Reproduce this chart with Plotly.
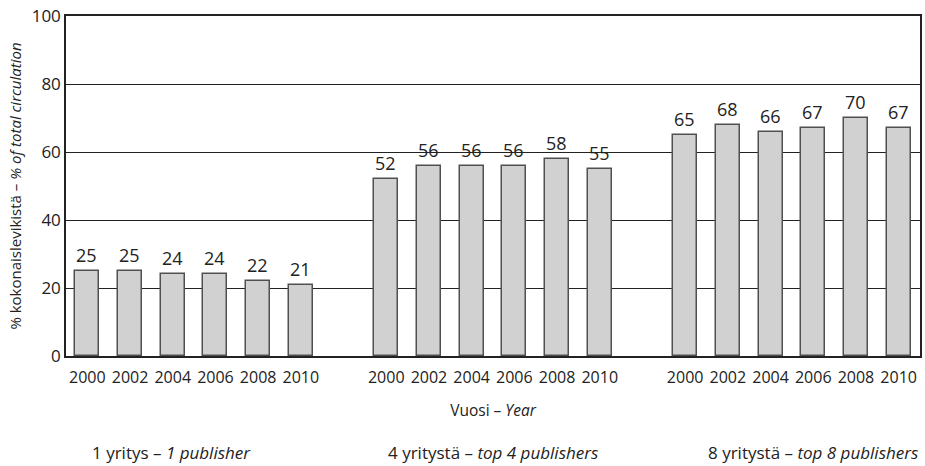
import plotly.graph_objects as go

# Data
years = ["2000", "2002", "2004", "2006", "2008", "2010"]
group_labels_fi = ["1 yritys", "4 yritystä", "8 yritystä"]
group_labels_en = ["1 publisher", "top 4 publishers", "top 8 publishers"]
share_top1 = [25, 25, 24, 24, 22, 21]
share_top4 = [52, 56, 56, 56, 58, 55]
share_top8 = [65, 68, 66, 67, 70, 67]

series = [share_top1, share_top4, share_top8]
slots_per_group = len(years) + 1  # one empty slot between groups

xs, ys, tick_vals, tick_text = [], [], [], []
for g, values in enumerate(series):
    for i, v in enumerate(values):
        pos = g * slots_per_group + i
        xs.append(pos)
        ys.append(v)
        tick_vals.append(pos)
        tick_text.append(years[i])

FONT = "Open Sans"
INK = "#222222"

fig = go.Figure()
fig.add_trace(go.Bar(
    x=xs,
    y=ys,
    width=0.56,
    marker=dict(color="#d1d1d1", line=dict(color="#505050", width=1.5)),
    text=[str(v) for v in ys],
    textposition="outside",
    textfont=dict(family=FONT, size=18, color=INK),
    cliponaxis=False,
    showlegend=False,
))

fig.update_layout(
    width=925,
    height=466,
    margin=dict(l=66, r=3, t=16, b=110),
    plot_bgcolor="white",
    paper_bgcolor="white",
    font=dict(family=FONT, color=INK),
    bargap=0,
    xaxis=dict(
        range=[-0.5, 3 * slots_per_group - 1.5],
        tickvals=tick_vals,
        ticktext=tick_text,
        tickfont=dict(size=16, color=INK),
        ticklabelstandoff=6,
        showgrid=False,
        zeroline=False,
        showline=True,
        linecolor=INK,
        linewidth=1.5,
        mirror=True,
        ticks="",
        title=dict(text="Vuosi – <i>Year</i>", font=dict(size=15.5), standoff=18),
    ),
    yaxis=dict(
        range=[0, 100],
        tickvals=[0, 20, 40, 60, 80, 100],
        tickfont=dict(size=17, color=INK),
        showgrid=True,
        gridcolor=INK,
        gridwidth=1,
        zeroline=False,
        showline=True,
        linecolor=INK,
        linewidth=1.5,
        mirror=True,
        ticks="",
        title=dict(
            text="% kokonaislevikistä – <i>% of total circulation</i>",
            font=dict(size=15),
            standoff=6,
        ),
    ),
)

# group captions under the axis
anchors = [(0.028, "left"), (0.5, "center"), (1.0, "right")]
for (xp, xa), fi, en in zip(anchors, group_labels_fi, group_labels_en):
    fig.add_annotation(
        text=f"{fi} – <i>{en}</i>",
        xref="paper", yref="paper",
        x=xp, y=-0.285,
        xanchor=xa, yanchor="middle",
        showarrow=False,
        font=dict(family=FONT, size=17, color=INK),
    )

# drop the default page margin so the figure fills the window exactly
fig.write_html(
    "out.html",
    config={"displayModeBar": False},
    post_script="document.body.style.margin='0';",
)
